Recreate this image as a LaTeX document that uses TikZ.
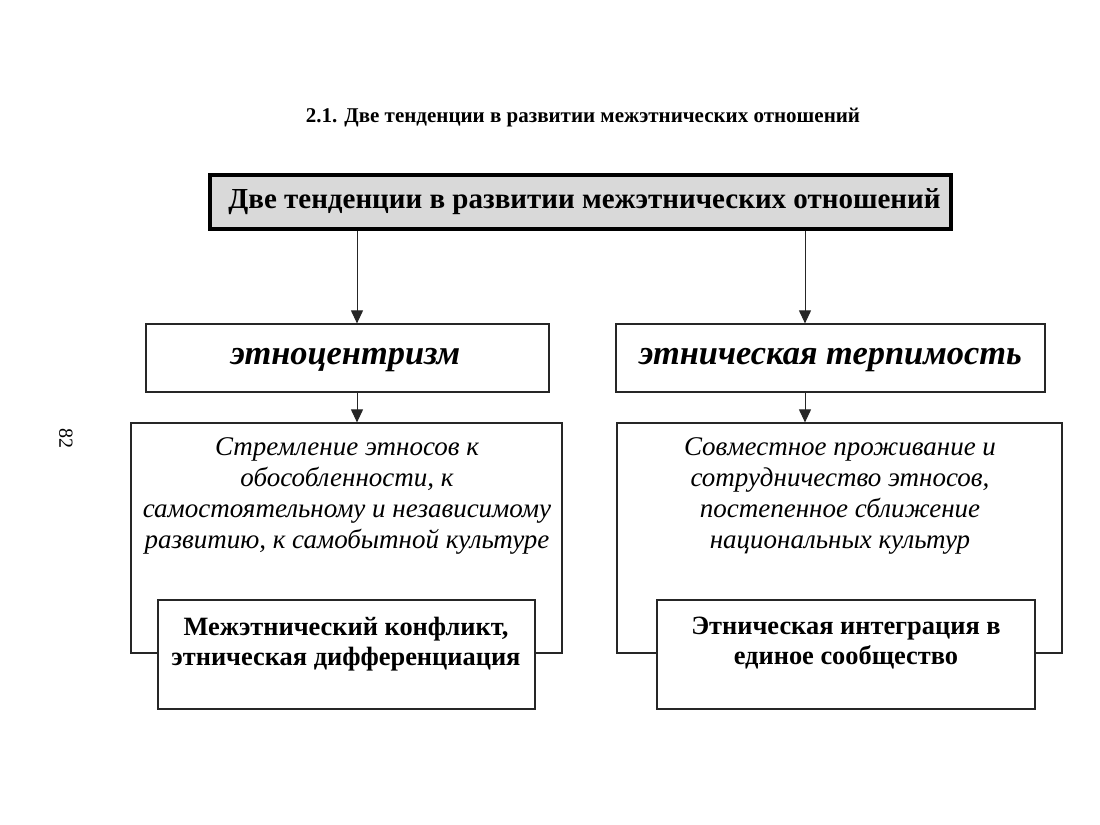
\documentclass[tikz,border=0pt]{standalone}
\usepackage{fontspec}
\setmainfont{Liberation Serif}
\usetikzlibrary{arrows.meta,fit}
\begin{document}
\begin{tikzpicture}[x=0.5pt,y=-0.5pt,
  box/.style={draw=black!85, line width=0.6pt, fill=white, inner sep=0pt},
  topbox/.style={draw=black, line width=1.9pt, fill=gray!30, inner sep=0pt},
  arr/.style={draw=black!85, line width=0.5pt, -{Triangle[width=6pt,length=6.5pt]}},
  heads/.style={font=\fontsize{17.2}{19}\selectfont\bfseries\itshape},
  body/.style={align=center, font=\fontsize{13.5}{15.5}\selectfont\itshape},
  result/.style={align=center, font=\fontsize{13.2}{15}\selectfont\bfseries}]
\useasboundingbox (0,0) rectangle (1100,825);
\node[font=\fontsize{10.5}{12}\selectfont\bfseries] (title) at (583,118) {2.1. Две тенденции в развитии межэтнических отношений};
\node[topbox, fit={(210,175) (951,229)}] (top) {};
\node[font=\fontsize{14.5}{16}\selectfont\bfseries] (toptext) at ([xshift=2pt]top.center) {Две тенденции в развитии межэтнических отношений};
\node[box, fit={(146,324) (549,392)}] (e1) {};
\node[heads] (e1t) at ([xshift=-1pt,yshift=-1pt]e1.center) {этноцентризм};
\node[box, fit={(616,324) (1045,392)}] (e2) {};
\node[heads] (e2t) at ([yshift=-1pt]e2.center) {этническая терпимость};
\node[box, fit={(131,423) (562,653)}] (d1) {};
\node[box, fit={(617,423) (1062,653)}] (d2) {};
\node[body, anchor=north] (d1t) at (347,431) {Стремление этносов к\\обособленности, к\\самостоятельному и независимому\\развитию, к самобытной культуре};
\node[body, anchor=north] (d2t) at (840,431) {Совместное проживание и\\сотрудничество этносов,\\постепенное сближение\\национальных культур};
\node[box, fit={(158,600) (535,709)}] (r1) {};
\node[result, anchor=north] (r1t) at (346,610) {Межэтнический конфликт,\\этническая дифференциация};
\node[box, fit={(657,600) (1035,709)}] (r2) {};
\node[result, anchor=north] (r2t) at (846,610) {Этническая интеграция в\\единое сообщество};
\node[rotate=-90, font=\fontsize{10}{11}\selectfont] (page) at (66,438) {82};
\coordinate (ax1) at (357,0);
\coordinate (ax2) at (805,0);
\draw[arr] (top.south -| ax1) -- (e1.north -| ax1);
\draw[arr] (top.south -| ax2) -- (e2.north -| ax2);
\draw[arr] (e1.south -| ax1) -- (d1.north -| ax1);
\draw[arr] (e2.south -| ax2) -- (d2.north -| ax2);
\end{tikzpicture}
\end{document}
